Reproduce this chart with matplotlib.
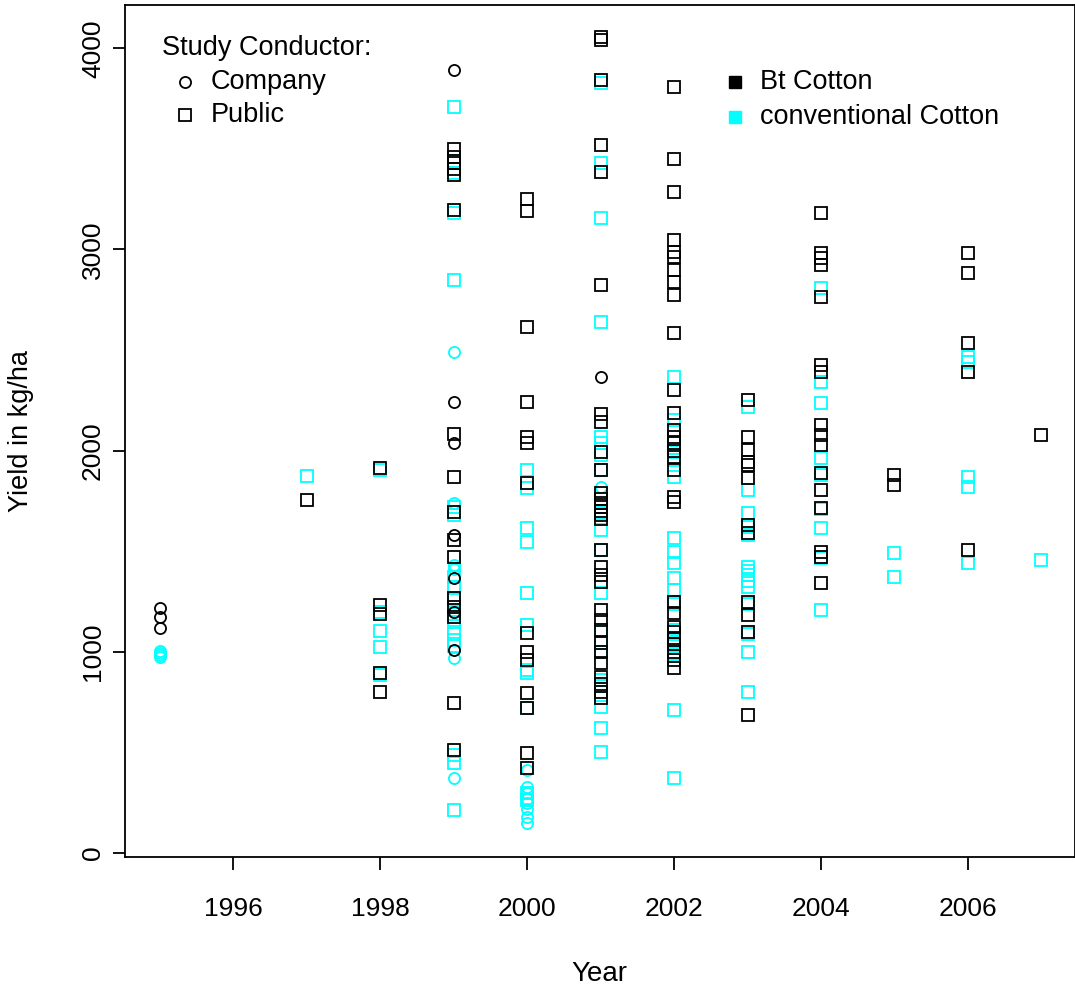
import matplotlib
matplotlib.use("Agg")
import matplotlib.pyplot as plt

plt.rcParams['font.family'] = ['Liberation Sans', 'DejaVu Sans']

# ---- data: Bt cotton, company studies (black circles)
bt_company_year = [1995, 1995, 1995,
                   1999, 1999, 1999, 1999, 1999, 1999, 1999,
                   2001]
bt_company_yield = [1218, 1173, 1118,
                    3892, 2240, 2038, 1580, 1367, 1198, 1009,
                    2366]

# ---- conventional cotton, company studies (cyan circles)
conv_company_year = [1995, 1995, 1995, 1995,
                     1999, 1999, 1999, 1999, 1999, 1999, 1999,
                     2000, 2000, 2000, 2000, 2000, 2000, 2000, 2000,
                     2001]
conv_company_yield = [1005, 995, 985, 975,
                      2490, 1740, 1430, 1410, 1200, 970, 373,
                      413, 328, 300, 270, 250, 220, 180, 150,
                      1819]

# ---- Bt cotton, public studies (black squares)
bt_public = {
    1997: [1754],
    1998: [1913, 1235, 1188, 895, 800],
    1999: [3500, 3460, 3430, 3400, 3370, 3196, 2083, 1869, 1695, 1556, 1471,
           1267, 1223, 1173, 745, 512],
    2000: [3250, 3191, 2614, 2241, 2068, 2040, 1839, 1093, 999, 959, 795, 721,
           497, 422],
    2001: [4055, 4040, 3842, 3519, 3385, 2823, 2180, 2140, 1993, 1904, 1789,
           1760, 1740, 1720, 1700, 1680, 1660, 1506, 1421, 1382, 1347, 1208,
           1158, 1108, 1044, 1000, 944, 875, 840, 800, 770],
    2002: [3807, 3449, 3285, 3047, 2987, 2962, 2898, 2838, 2773, 2584, 2301,
           2187, 2102, 2070, 2040, 2000, 1968, 1904, 1769, 1745, 1248, 1193,
           1123, 1100, 1070, 1040, 1000, 960, 920],
    2003: [2251, 2068, 2003, 1943, 1928, 1864, 1630, 1590, 1248, 1183, 1098, 686],
    2004: [3181, 2982, 2957, 2922, 2763, 2425, 2391, 2127, 2077, 2028, 1889,
           1804, 1715, 1496, 1471, 1342],
    2005: [1879, 1829],
    2006: [2982, 2883, 2535, 2391, 1506],
    2007: [2077],
}

# ---- conventional cotton, public studies (cyan squares)
conv_public = {
    1997: [1874],
    1998: [1905, 1198, 1103, 1024, 885],
    1999: [3708, 3440, 3380, 3180, 2848, 1720, 1680, 1370, 1320, 1257, 1190,
           1150, 1100, 1060, 1030, 487, 447, 214],
    2000: [1904, 1814, 1615, 1546, 1292, 1133, 909, 895, 721, 298, 263],
    2001: [3827, 3429, 3156, 2639, 2068, 2038, 1978, 1904, 1690, 1605, 1506,
           1292, 1108, 1044, 1000, 860, 830, 726, 621, 502],
    2002: [2366, 2152, 2038, 1993, 1953, 1869, 1566, 1496, 1441, 1367, 1307,
           1240, 1110, 1060, 1030, 990, 711, 373],
    2003: [2217, 1804, 1690, 1620, 1580, 1421, 1400, 1380, 1350, 1322, 1240,
           1090, 999, 800],
    2004: [2808, 2341, 2237, 1963, 1880, 1710, 1615, 1465, 1208],
    2005: [1491, 1372],
    2006: [2465, 2440, 1869, 1819, 1441],
    2007: [1456],
}

x_ticks = [1996, 1998, 2000, 2002, 2004, 2006]
y_ticks = [0, 1000, 2000, 3000, 4000]

BT_COLOR = 'black'
CONV_COLOR = '#00FFFF'


def flatten(d):
    xs, ys = [], []
    for yr, vals in d.items():
        xs += [yr] * len(vals)
        ys += vals
    return xs, ys


fig = plt.figure(figsize=(10.75, 9.94), dpi=100)
ax = fig.add_axes([124.5 / 1075, 1 - 857 / 994, 950 / 1075, 852 / 994])

sq = dict(marker='s', linestyle='none', markersize=9.2, markerfacecolor='none',
          markeredgewidth=1.3)
ci = dict(marker='o', linestyle='none', markersize=8.0, markerfacecolor='none',
          markeredgewidth=1.3)

bx, by = flatten(bt_public)
cx, cy = flatten(conv_public)
ax.plot(cx, cy, markeredgecolor=CONV_COLOR, **sq)
ax.plot(conv_company_year, conv_company_yield, markeredgecolor=CONV_COLOR, **ci)
ax.plot(bx, by, markeredgecolor=BT_COLOR, **sq)
ax.plot(bt_company_year, bt_company_yield, markeredgecolor=BT_COLOR, **ci)

ax.set_xlim(1994.52, 2007.45)
ax.set_ylim(-20, 4215)
ax.set_xticks(x_ticks)
ax.set_yticks(y_ticks)
ax.set_xticklabels([str(t) for t in x_ticks])
ax.set_yticklabels([str(t) for t in y_ticks], rotation=90, va='center')

for s in ax.spines.values():
    s.set_linewidth(1.3)
ax.tick_params(axis='both', direction='out', length=9, width=1.3, labelsize=19)
ax.tick_params(axis='x', pad=20)
ax.tick_params(axis='y', pad=5)

ax.set_xlabel('Year', fontsize=20)
ax.set_ylabel('Yield in kg/ha', fontsize=19.5)
ax.xaxis.set_label_coords(0.5, -0.122)
ax.yaxis.set_label_coords(-0.095, 0.5)

# legend 1: study conductor
T = ax.transAxes
fs = 19.5
ax.text(0.0395, 0.9495, 'Study Conductor:', transform=T, fontsize=fs, va='center', ha='left')
ax.plot([0.0635], [0.9096], transform=T, markeredgecolor='black', clip_on=False, **ci)
ax.text(0.091, 0.9096, 'Company', transform=T, fontsize=fs, va='center', ha='left')
ax.plot([0.0635], [0.871], transform=T, markeredgecolor='black', clip_on=False, **sq)
ax.text(0.091, 0.871, 'Public', transform=T, fontsize=fs, va='center', ha='left')

# legend 2: crop type
ax.plot([0.6425], [0.9096], transform=T, marker='s', linestyle='none', markersize=8.5,
        color=BT_COLOR)
ax.text(0.669, 0.9096, 'Bt Cotton', transform=T, fontsize=fs, va='center', ha='left')
ax.plot([0.6425], [0.8685], transform=T, marker='s', linestyle='none', markersize=8.5,
        color=CONV_COLOR)
ax.text(0.669, 0.8685, 'conventional Cotton', transform=T, fontsize=fs, va='center', ha='left')

fig.savefig('out.png', dpi=100)
